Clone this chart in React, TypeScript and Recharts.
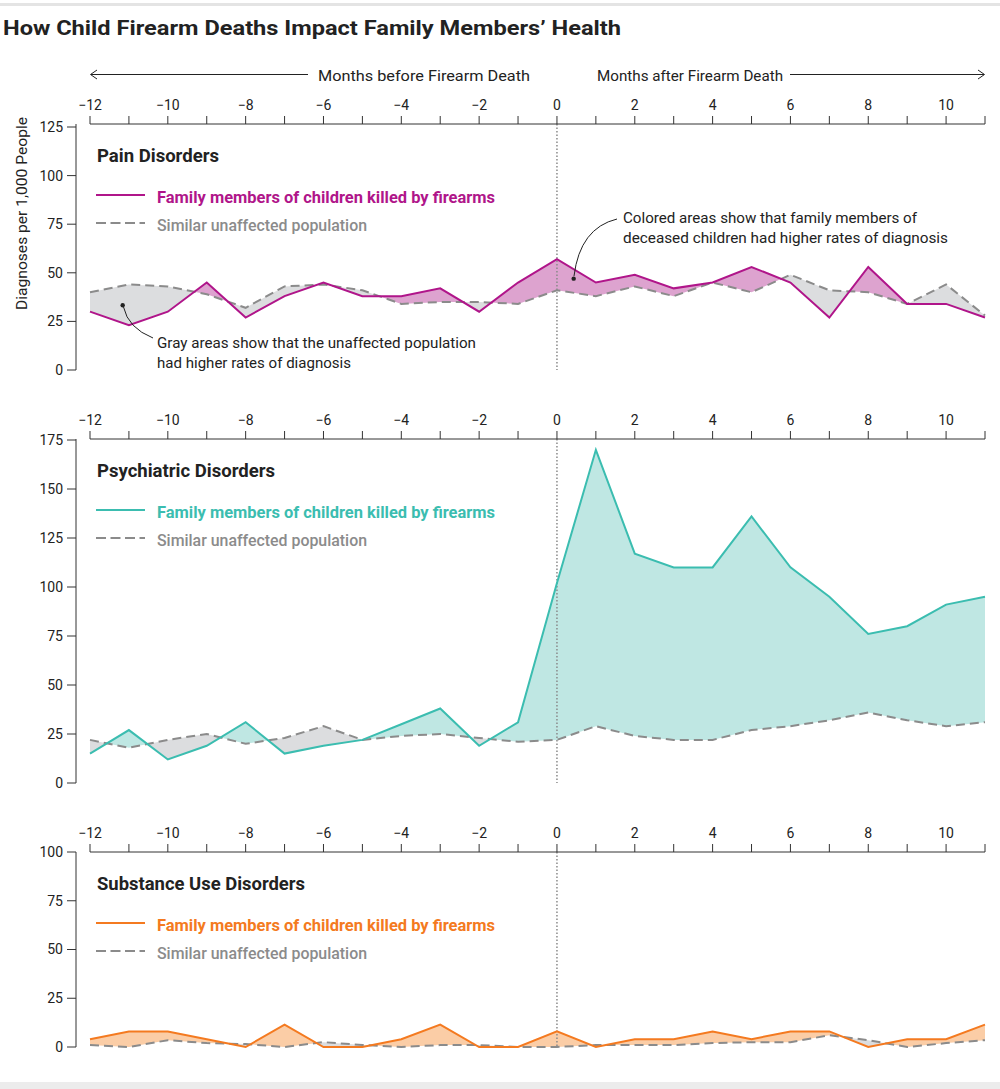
import React from 'react'
import {
  Area,
  ComposedChart,
  Line,
  ReferenceDot,
  ReferenceLine,
  XAxis,
  YAxis,
} from 'recharts'

// months relative to the firearm death
const months = [-12, -11, -10, -9, -8, -7, -6, -5, -4, -3, -2, -1, 0, 1, 2, 3, 4, 5, 6, 7, 8, 9, 10, 11]

// diagnoses per 1,000 people
const painFamily = [30, 23, 30, 45, 27, 38, 45, 38, 38, 42, 30, 45, 57, 45, 49, 42, 45, 53, 45, 27, 53, 34, 34, 27]
const painUnaffected = [40, 44, 43, 39, 32, 43, 44, 41, 34, 35, 35, 34, 41, 38, 43, 38, 45, 40, 49, 41, 40, 34, 44, 28]

const psychFamily = [15, 27, 12, 19, 31, 15, 19, 22, 30, 38, 19, 31, 102, 170, 117, 110, 110, 136, 110, 95, 76, 80, 91, 95]
const psychUnaffected = [22, 18, 22, 25, 20, 23, 29, 22, 24, 25, 23, 21, 22, 29, 24, 22, 22, 27, 29, 32, 36, 32, 29, 31]

const substFamily = [4, 8, 8, 4, 0, 11.5, 0, 0, 4, 11.5, 0, 0, 8, 0, 4, 4, 8, 4, 8, 8, 0, 4, 4, 11.5]
const substUnaffected = [1, 0, 3.5, 2, 1.5, 0, 2.5, 1, 0, 1, 1, 0, 0, 1, 1, 1, 2, 2.5, 2.5, 6, 3.5, 0, 2, 3.5]

const painTicks = [0, 25, 50, 75, 100, 125]
const psychTicks = [0, 25, 50, 75, 100, 125, 150, 175]
const substTicks = [0, 25, 50, 75, 100]

const FONT = 'Roboto, "Noto Sans", sans-serif'
const INK = '#222'
const AXIS = '#333'
const GRAY_LINE = '#8b8b8b'
const GRAY_FILL = '#dcdddf'

const fmtMonth = (v: number) => {
  if (v % 2 !== 0) return ''
  return v < 0 ? `\u2212${-v}` : `${v}`
}

type PanelProps = {
  name: string
  family: number[]
  unaffected: number[]
  yMax: number
  yTicks: number[]
  line: string
  fill: string
  top: number
  marginTop: number
  plotHeight: number
  padTop: number
  children?: React.ReactNode
}

function Panel({
  name,
  family,
  unaffected,
  yMax,
  yTicks,
  line,
  fill,
  top,
  marginTop,
  plotHeight,
  padTop,
  children,
}: PanelProps) {
  const rows = months.map((m, i) => ({
    month: m,
    family: family[i],
    unaffected: unaffected[i],
  }))
  const height = marginTop + 30 + plotHeight + 10
  const tick = { fill: INK, fontSize: 14, fontFamily: FONT }

  return (
    <div style={{ position: 'absolute', left: 0, top, width: 1000, height }}>
      <ComposedChart
        width={1000}
        height={height}
        data={rows}
        margin={{ top: marginTop, right: 15, bottom: 10, left: 30 }}
      >
        <defs>
          {/* colour only where family > unaffected, gray only where the reverse */}
          <clipPath id={`${name}-clip-u`}>
            <use href={`#${name}-top-u`} />
          </clipPath>
          <clipPath id={`${name}-clip-f`}>
            <use href={`#${name}-top-f`} />
          </clipPath>
        </defs>
        <XAxis
          type="number"
          dataKey="month"
          orientation="top"
          domain={[-12, 11]}
          ticks={months}
          interval={0}
          height={30}
          tickSize={8}
          tickMargin={6}
          tickFormatter={fmtMonth}
          axisLine={{ stroke: AXIS }}
          tickLine={{ stroke: AXIS }}
          tick={tick}
        />
        {/* axis line + tick marks get pulled 14px left by the css below; labels don't, hence the wide margin */}
        <YAxis
          type="number"
          domain={[0, yMax]}
          ticks={yTicks}
          interval={0}
          width={60}
          padding={{ top: padTop, bottom: 0 }}
          tickSize={9}
          tickMargin={18}
          axisLine={{ stroke: AXIS }}
          tickLine={{ stroke: AXIS }}
          tick={tick}
        />
        <Area
          id={`${name}-top-u`}
          dataKey="unaffected"
          baseValue={yMax}
          fill="none"
          stroke="none"
          isAnimationActive={false}
        />
        <Area
          id={`${name}-top-f`}
          dataKey="family"
          baseValue={yMax}
          fill="none"
          stroke="none"
          isAnimationActive={false}
        />
        <Area
          dataKey="family"
          baseValue={0}
          fill={fill}
          fillOpacity={1}
          stroke="none"
          clipPath={`url(#${name}-clip-u)`}
          isAnimationActive={false}
        />
        <Area
          dataKey="unaffected"
          baseValue={0}
          fill={GRAY_FILL}
          fillOpacity={1}
          stroke="none"
          clipPath={`url(#${name}-clip-f)`}
          isAnimationActive={false}
        />
        <ReferenceLine x={0} stroke="#8a8a8a" strokeWidth={1.5} strokeDasharray="1.5 2" />
        <Line
          dataKey="unaffected"
          stroke={GRAY_LINE}
          strokeWidth={2}
          strokeDasharray="9 5"
          dot={false}
          activeDot={false}
          isAnimationActive={false}
        />
        <Line
          dataKey="family"
          stroke={line}
          strokeWidth={2}
          dot={false}
          activeDot={false}
          isAnimationActive={false}
        />
        {children}
      </ComposedChart>
    </div>
  )
}

function T({
  x,
  y,
  w,
  size,
  weight = 400,
  fill = INK,
  children,
}: {
  x: number
  y: number
  w: number
  size: number
  weight?: number
  fill?: string
  children: string
}) {
  return (
    <text
      x={x}
      y={y}
      fontSize={size}
      fontWeight={weight}
      fill={fill}
      fontFamily={FONT}
      textLength={w}
      lengthAdjust="spacingAndGlyphs"
    >
      {children}
    </text>
  )
}

function Legend({ axisY, title, titleW, color }: { axisY: number; title: string; titleW: number; color: string }) {
  return (
    <g>
      <T x={97} y={axisY + 38} w={titleW} size={18} weight={700}>
        {title}
      </T>
      <line x1={96} x2={145} y1={axisY + 71} y2={axisY + 71} stroke={color} strokeWidth={2} />
      <T x={157} y={axisY + 79} w={338} size={16} weight={700} fill={color}>
        Family members of children killed by firearms
      </T>
      <line
        x1={96}
        x2={145}
        y1={axisY + 99}
        y2={axisY + 99}
        stroke={GRAY_LINE}
        strokeWidth={2}
        strokeDasharray="10 4.5"
      />
      <T x={157} y={axisY + 107} w={210} size={16} weight={500} fill={GRAY_LINE}>
        Similar unaffected population
      </T>
    </g>
  )
}

export default function App() {
  return (
    <div
      style={{
        position: 'absolute',
        left: 0,
        top: 0,
        width: 1000,
        height: 1089,
        background: '#fff',
        fontFamily: FONT,
      }}
    >
      <style>{`.recharts-yAxis{transform:translateX(-14px)}`}</style>

      <Panel
        name="pain"
        family={painFamily}
        unaffected={painUnaffected}
        yMax={125}
        yTicks={painTicks}
        line="#b0158a"
        fill="#dda3cf"
        top={80}
        marginTop={14}
        plotHeight={246}
        padTop={3}
      >
        <ReferenceDot x={-11.16} y={33.3} r={2.2} fill={INK} stroke="none" />
        <ReferenceDot x={0.43} y={47} r={2.2} fill={INK} stroke="none" />
      </Panel>
      <Panel
        name="psych"
        family={psychFamily}
        unaffected={psychUnaffected}
        yMax={175}
        yTicks={psychTicks}
        line="#3bbdb0"
        fill="#bfe7e3"
        top={390}
        marginTop={19}
        plotHeight={344}
        padTop={1}
      />
      <Panel
        name="subst"
        family={substFamily}
        unaffected={substUnaffected}
        yMax={100}
        yTicks={substTicks}
        line="#f47a20"
        fill="#fbcda6"
        top={800}
        marginTop={22}
        plotHeight={195}
        padTop={0}
      />

      <svg
        width={1000}
        height={1089}
        style={{ position: 'absolute', left: 0, top: 0, pointerEvents: 'none' }}
      >
        <rect x={0} y={3} width={1000} height={3} fill="#e4e4e4" />
        <rect x={0} y={1082} width={1000} height={7} fill="#ececec" />

        <T x={3} y={35} w={618} size={21} weight={700}>
          How Child Firearm Deaths Impact Family Members’ Health
        </T>

        <line x1={91} x2={308} y1={74.5} y2={74.5} stroke={INK} strokeWidth={1} />
        <polyline points="97,70 90.5,74.5 97,79" fill="none" stroke={INK} strokeWidth={1} />
        <T x={318} y={81} w={212} size={15}>
          Months before Firearm Death
        </T>
        <T x={597} y={81} w={186} size={15}>
          Months after Firearm Death
        </T>
        <line x1={790} x2={984} y1={74.5} y2={74.5} stroke={INK} strokeWidth={1} />
        <polyline points="978,70 984.5,74.5 978,79" fill="none" stroke={INK} strokeWidth={1} />

        <text
          x={26.5}
          y={213.5}
          fontSize={14.5}
          fill={INK}
          fontFamily={FONT}
          textAnchor="middle"
          textLength={193}
          lengthAdjust="spacingAndGlyphs"
          transform="rotate(-90, 26.5, 213.5)"
        >
          Diagnoses per 1,000 People
        </text>

        <Legend axisY={124} title="Pain Disorders" titleW={122} color="#b0158a" />
        <Legend axisY={439} title="Psychiatric Disorders" titleW={178} color="#3bbdb0" />
        <Legend axisY={852} title="Substance Use Disorders" titleW={208} color="#f47a20" />

        <path d="M153,338 Q128,328 123.5,307" fill="none" stroke={INK} strokeWidth={1} />
        <T x={157} y={348} w={319} size={15.5}>
          Gray areas show that the unaffected population
        </T>
        <T x={157} y={368} w={194} size={15.5}>
          had higher rates of diagnosis
        </T>

        <path d="M617,219 Q580,228 574,276" fill="none" stroke={INK} strokeWidth={1} />
        <T x={623} y={223} w={294} size={15.5}>
          Colored areas show that family members of
        </T>
        <T x={623} y={243} w={325} size={15.5}>
          deceased children had higher rates of diagnosis
        </T>
      </svg>
    </div>
  )
}
